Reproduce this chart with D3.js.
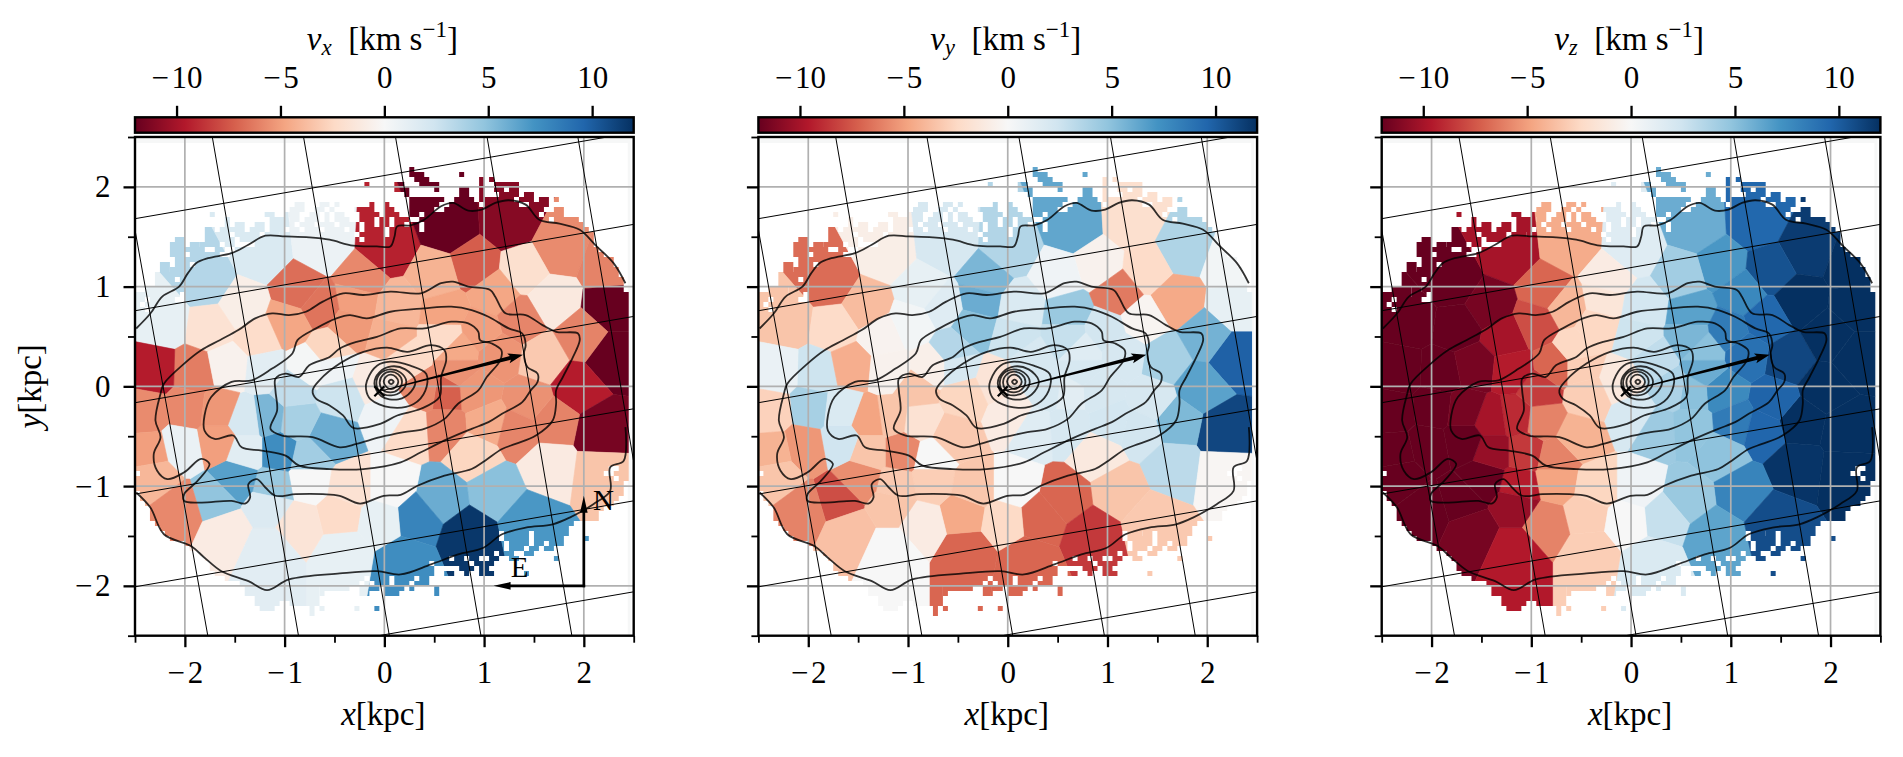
<!DOCTYPE html>
<html>
<head>
<meta charset="utf-8">
<script src="https://cdn.jsdelivr.net/npm/d3@7"></script>
<style>
html, body { margin: 0; padding: 0; background: #fff; }
svg { display: block; }
text { font-family: "Liberation Serif", serif; fill: #000; white-space: pre; }
</style>
</head>
<body>
<svg id="fig" width="1903" height="757"></svg>
<script>
// Voronoi bin centres in kpc, one value per bin for each velocity component
const binX = [-1.786,-1.227,-0.617,0.027,0.654,1.247,1.756,2.231,0.908,1.4,1.688,0.502,-0.227,-0.854,-0.278,-0.651,-1.431,-2.21,-1.736,-1.261,-0.956,-0.346,0.129,0.603,1.112,1.349,2.264,2.264,1.586,1.993,1.925,2.18,1.688,1.451,1.146,0.739,0.908,0.61,0.41,0.227,-0.107,-0.44,0.043,0.26,0.603,1.044,1.315,0.908,1.654,2.163,1.112,0.569,0.061,0.332,0.841,1.451,0.197,-0.414,-0.447,-0.854,-0.041,-0.753,-0.346,-1.125,-1.481,-1.702,-1.058,-0.753,-0.549,-0.888,-1.159,-1.397,-1.397,-1.668,-1.905,-2.312,-1.566,-1.973,-1.668,-2.38,-2.041,-2.346,-2.312,-2.041,-1.6,-1.159,-1.159,-0.922,-1.193,-0.753,-0.515,0.74,0.06,0.6,-0.55,0.97];
const binY = [1.034,1.336,1.403,1.369,1.604,1.638,1.369,1.201,1.218,1.168,0.866,1.101,1.067,0.966,0.866,0.799,0.799,0.664,0.597,0.497,0.631,0.597,0.799,0.732,0.933,0.664,0.799,0.295,0.262,0.497,-0.007,-0.443,-0.342,-0.141,0.329,0.362,-0.04,-0.06,-0.03,0.257,0.057,-0.094,-0.294,-0.43,-0.409,-0.376,-0.443,-0.678,-0.812,-0.879,-1.047,-1.114,-1.013,-1.315,-1.483,-1.349,-1.752,-1.651,-1.282,-1.383,-1.349,-0.946,-1.013,-1.014,-0.93,-1.148,-0.644,-0.711,-0.51,-0.342,-0.309,-0.342,-0.644,-0.544,0.128,0.14,0.195,-0.208,-0.242,-0.242,-0.611,-0.678,-0.879,-1.248,-1.45,-1.651,-1.181,-0.04,0.161,0.195,0.195,0.16,0.49,0.5,0.37,0.55];
const vx = [3.5,1.8,0.7,-9.3,-12,-11,-5.7,-6,-7.3,-2,-1.2,-4.2,-5.8,-6.7,-5,-6.5,-0.8,1,-1.8,-2.2,-4.7,-5.2,-4,-4.8,-4.7,-5.9,-12,-12,-3.2,-6,-9.5,-11.5,-6,-5.5,-5.4,-4.6,-5.3,-7.2,-5.8,-2.3,-1,2.5,0.5,-2.3,-5.9,-4.5,-5.9,-2.6,-1.1,-3.4,5,6,0,8,11.7,7,7.5,1,-2.3,-1.6,1,0,-1.8,4.5,6.6,4.8,7.5,4.2,6,4,5.5,2,1.4,-5,-6.2,-9.5,-0.5,-5.8,-5.3,-5.7,0.8,-5,-4,-5.8,-1,1.3,1.7,3,1.3,0.2,0.5,-5.5,-4.3,-2.3,-2.6,-5];
const vy = [-6.8,-0.8,2,3.6,6.3,-2,3.7,0.3,-0.5,-2.3,-4.6,0.5,5.5,1,6,1.5,-3.8,-3.4,-2.3,-0.4,0.3,5,1.8,4.5,-6.3,-0.3,1,9.8,4,5.7,6.5,11,5.4,2,2,1.5,2,1.3,2,2,-1.6,-2.6,-1,1.5,2,2.2,2.3,-1.2,3.2,-0.2,-3.4,-7,0,-7,-8.5,-3.2,-7,-7,-4.6,-1,-2.4,-3,-3.3,-3.2,-5.6,-7.8,-5.8,0,-3.2,-1.8,-3.4,-4.8,-3.4,2.4,2.5,0.8,-4.4,4,1.8,-2.8,-5.3,-4.2,-3.4,-6,-3.6,0,-3.4,-3.4,-0.5,-0.7,2,2,2.5,2.8,3.5,2.3];
const vz = [-12,-10,-4.5,1.5,6,9.5,11.5,12,7,10.5,12,4.2,-1,-7,-1.5,-4,-11.5,-12,-12,-10,-7.8,-2.5,2.2,6.5,7.8,9.5,12,12,11,12,12,12,12,9.7,9,5,7.7,5,3.8,3,-1.3,-3,2,4.4,4.8,8.5,9.6,4.9,11.8,12,8,4.5,0.5,2.8,6.4,10.7,1.8,-3,-3,-6,0,-4.8,-2.6,-9.5,-12,-12,-8.5,-6,-4.2,-6,-9,-10,-10.5,-12,-12,-12,-11.5,-12,-11.5,-12,-12,-12,-12,-12,-11.5,-9.6,-10.5,-8.4,-9.5,-7,-3,6,2.5,5.5,-2.5,8.5];

// Spaxels that have data: [first row, last row, [[first col, last col], ...]], 0.05 kpc each, row 0 at the top
const maskRows = [
  [6,6,[[55,55]]],
  [7,7,[[55,57],[65,65]]],
  [8,8,[[56,58],[69,69],[71,71]]],
  [9,9,[[46,46],[52,53],[57,60],[69,69],[72,76]]],
  [10,10,[[52,54],[60,60],[65,66],[69,69],[72,73],[75,76]]],
  [11,11,[[54,54],[65,66],[69,69],[73,76],[78,79]]],
  [12,12,[[55,61],[64,67],[69,75],[77,79],[81,82],[84,84]]],
  [13,13,[[32,33],[37,38],[40,40],[47,47],[50,50],[55,60],[63,68],[70,76],[79,82]]],
  [14,14,[[31,33],[36,37],[39,39],[44,47],[50,51],[55,59],[62,81],[84,85]]],
  [15,15,[[15,15],[26,27],[30,32],[35,36],[38,38],[40,41],[45,48],[50,52],[55,56],[58,80],[82,85]]],
  [16,16,[[18,18],[27,30],[31,32],[34,36],[38,38],[40,42],[45,47],[49,50],[52,54],[57,82],[84,88]]],
  [17,17,[[18,18],[20,21],[24,25],[27,31],[33,35],[37,39],[41,44],[46,47],[49,50],[52,53],[55,56],[58,89]]],
  [18,18,[[14,15],[17,21],[23,25],[27,29],[31,32],[34,36],[38,41],[43,44],[46,49],[51,56],[58,90]]],
  [19,19,[[14,18],[20,24],[26,28],[29,43],[45,49],[51,91]]],
  [20,20,[[8,9],[14,19],[21,44],[46,91]]],
  [21,21,[[7,9],[11,12],[13,16],[18,19],[24,91]]],
  [22,22,[[7,9],[10,13],[16,17],[20,92]]],
  [23,23,[[7,9],[11,16],[19,93]]],
  [24,24,[[8,9],[10,95]]],
  [25,25,[[5,6],[8,10],[12,95]]],
  [26,26,[[5,6],[7,9],[10,96]]],
  [27,27,[[4,96]]],
  [28,28,[[4,7],[9,97]]],
  [29,29,[[4,97]]],
  [30,30,[[2,5],[6,7],[8,97]]],
  [31,31,[[0,5],[6,8],[10,98]]],
  [32,32,[[0,1],[3,7],[10,98]]],
  [33,33,[[0,0],[2,98]]],
  [34,34,[[0,1],[3,98]]],
  [35,65,[[0,98]]],
  [66,66,[[0,94],[97,98]]],
  [67,67,[[1,93],[96,98]]],
  [68,68,[[0,95],[97,98]]],
  [69,70,[[0,97]]],
  [71,71,[[1,97]]],
  [72,72,[[1,96]]],
  [73,73,[[2,95]]],
  [74,74,[[3,93]]],
  [75,76,[[3,92]]],
  [77,77,[[4,87]]],
  [78,78,[[5,86]]],
  [79,79,[[6,72],[74,76],[77,78],[80,86]]],
  [80,80,[[7,72],[74,78],[80,85],[90,90]]],
  [81,81,[[10,73],[75,78],[80,81],[83,85]]],
  [82,82,[[11,73],[75,77],[79,80],[82,83]]],
  [83,83,[[13,71],[73,75],[78,79]]],
  [84,84,[[14,62],[64,65],[67,68],[71,72],[75,76],[84,84]]],
  [85,85,[[15,58],[60,66],[68,71]]],
  [86,86,[[15,59],[65,67],[69,70]]],
  [87,87,[[16,59],[62,63],[66,66],[69,71],[78,78]]],
  [88,88,[[18,45],[47,50],[52,55],[57,58]]],
  [89,89,[[21,44],[46,46],[48,50],[52,54],[56,58]]],
  [90,90,[[22,36],[37,42],[45,48],[50,53],[55,55],[60,60]]],
  [91,91,[[22,29],[30,36],[37,37],[45,46],[50,52],[60,60]]],
  [92,92,[[24,29],[30,36]]],
  [93,93,[[24,28],[31,36]]],
  [94,94,[[25,27],[35,35],[37,37],[44,44],[48,48]]],
  [95,95,[[35,35]]]
];

// Isophotes, kpc
const outerTop = [[-2.488,0.58],[-2.346,0.73],[-2.227,0.9],[-2.058,1],[-1.973,1.13],[-1.888,1.235],[-1.769,1.285],[-1.532,1.335],[-1.363,1.42],[-1.193,1.51],[-0.99,1.503],[-0.753,1.493],[-0.549,1.47],[-0.312,1.41],[-0.075,1.403],[0.061,1.403],[0.102,1.503],[0.129,1.604],[0.264,1.614],[0.4,1.671],[0.569,1.805],[0.688,1.839],[0.841,1.762],[0.976,1.772],[1.112,1.839],[1.247,1.866],[1.417,1.822],[1.553,1.671],[1.756,1.631],[1.959,1.57],[2.129,1.403],[2.298,1.235],[2.417,1.034]];
const outerBottom = [[2.417,-0.409],[2.4,-0.745],[2.264,-0.812],[2.264,-1.047],[2.095,-1.181],[1.858,-1.316],[1.688,-1.383],[1.417,-1.416],[1.18,-1.483],[0.993,-1.618],[0.739,-1.685],[0.468,-1.785],[0.163,-1.886],[-0.075,-1.853],[-0.447,-1.876],[-0.956,-1.936],[-1.176,-2.044],[-1.363,-1.953],[-1.634,-1.853],[-1.803,-1.718],[-1.939,-1.601],[-2.21,-1.483],[-2.346,-1.215],[-2.488,-1.064]];
const level2 = [[-1.837,-0.728],[-1.753,-0.779],[-1.871,-0.946],[-2.007,-1.081],[-2.007,-1.148],[-1.837,-1.165],[-1.532,-1.148],[-1.397,-1.175],[-1.346,-1.114],[-1.363,-0.98],[-1.278,-0.93],[-1.193,-1.014],[-1.092,-1.097],[-0.888,-1.081],[-0.617,-1.081],[-0.447,-1.097],[-0.244,-1.175],[-0.007,-1.097],[0.163,-1.087],[0.332,-0.997],[0.603,-0.896],[0.875,-0.829],[1.01,-0.745],[1.18,-0.628],[1.315,-0.577],[1.519,-0.493],[1.688,-0.342],[1.722,-0.175],[1.722,-0.04],[1.79,0.094],[1.892,0.295],[1.959,0.463],[1.942,0.53],[1.722,0.547],[1.586,0.614],[1.417,0.715],[1.214,0.732],[1.112,0.899],[1.061,0.967],[0.841,1],[0.688,1.05],[0.569,1.034],[0.366,0.933],[0.061,0.95],[-0.21,0.916],[-0.414,0.933],[-0.617,0.849],[-0.786,0.748],[-0.956,0.715],[-1.125,0.732],[-1.295,0.681],[-1.464,0.564],[-1.651,0.463],[-1.837,0.362],[-2.007,0.228],[-2.21,0.027],[-2.244,-0.074],[-2.295,-0.342],[-2.244,-0.51],[-2.312,-0.678],[-2.278,-0.846],[-2.176,-0.93],[-2.007,-0.862]];
const level3 = [[-0.871,0.463],[-0.685,0.581],[-0.481,0.681],[-0.346,0.715],[-0.176,0.681],[0.061,0.748],[0.4,0.782],[0.671,0.799],[0.875,0.765],[1.044,0.698],[1.247,0.581],[1.383,0.53],[1.417,0.413],[1.4,0.329],[1.434,0.195],[1.536,0.128],[1.536,0.044],[1.468,-0.04],[1.383,-0.158],[1.18,-0.275],[1.044,-0.359],[0.875,-0.426],[0.637,-0.527],[0.366,-0.661],[0.163,-0.762],[-0.21,-0.829],[-0.549,-0.829],[-0.854,-0.795],[-0.99,-0.695],[-1.227,-0.644],[-1.431,-0.611],[-1.515,-0.493],[-1.702,-0.527],[-1.803,-0.443],[-1.803,-0.292],[-1.736,-0.107],[-1.532,0.044],[-1.329,0.06],[-1.125,0.178],[-0.922,0.329]];
const level4 = [[-0.447,0.379],[-0.278,0.446],[-0.075,0.497],[0.163,0.581],[0.4,0.581],[0.671,0.648],[0.841,0.631],[0.942,0.547],[0.959,0.463],[1.078,0.43],[1.173,0.362],[1.163,0.262],[1.027,0.094],[0.942,-0.04],[0.739,-0.175],[0.603,-0.326],[0.4,-0.426],[0.197,-0.46],[-0.041,-0.51],[-0.278,-0.577],[-0.447,-0.611],[-0.719,-0.51],[-1.024,-0.493],[-1.142,-0.426],[-1.075,-0.242],[-1.092,-0.04],[-1.092,0.077],[-0.99,0.128],[-0.854,0.094],[-0.753,0.211],[-0.549,0.295]];
const level5 = [[-0.719,-0.04],[-0.651,0.06],[-0.447,0.228],[-0.21,0.346],[0.027,0.389],[0.231,0.346],[0.468,0.413],[0.603,0.362],[0.62,0.262],[0.569,0.094],[0.553,-0.107],[0.366,-0.225],[0.129,-0.292],[-0.041,-0.376],[-0.312,-0.416],[-0.414,-0.292],[-0.549,-0.191],[-0.685,-0.124]];
const level6 = [[-0.174,0.057],[-0.074,0.207],[0.06,0.247],[0.261,0.207],[0.421,0.124],[0.411,-0.043],[0.294,-0.177],[0.06,-0.211],[-0.14,-0.127],[-0.184,-0.027]];
const level7 = [[-0.1,0.03],[-0.05,0.14],[0.07,0.2],[0.21,0.17],[0.31,0.06],[0.27,-0.05],[0.14,-0.13],[-0.03,-0.1]];
const level8 = [[-0.08,0.03],[-0.04,0.13],[0.06,0.17],[0.16,0.14],[0.22,0.05],[0.17,-0.05],[0.07,-0.09],[-0.04,-0.06]];
const level9 = [[-0.047,0.04],[-0.01,0.12],[0.06,0.147],[0.14,0.12],[0.177,0.05],[0.14,-0.03],[0.06,-0.06],[-0.02,-0.03]];
const level10 = [[-0.007,0.05],[0.02,0.1],[0.067,0.117],[0.115,0.095],[0.14,0.045],[0.11,-0.01],[0.065,-0.027],[0.02,-0.005]];
const level11 = [[0.043,0.045],[0.068,0.067],[0.094,0.045],[0.068,0.023]];
const closedLevels = [level2, level3, level4, level5, level6, level7, level8, level9, level10, level11];
const openLevels = [outerTop, outerBottom];

// Sky grid lines (RA / Dec), kpc end points
const skyLines = [
  [[-2.5,1.681],[2.5,2.546]], [[-2.5,0.758],[2.5,1.624]], [[-2.5,-0.164],[2.5,0.701]],
  [[-2.5,-1.08],[2.5,-0.225]], [[-2.5,-2.01],[2.5,-1.148]], [[-0.04,-2.497],[2.5,-2.06]],
  [[-2.667,2.5],[-1.77,-2.5]], [[-1.725,2.5],[-0.861,-2.5]], [[-0.81,2.5],[0.05,-2.5]],
  [[0.112,2.5],[0.969,-2.5]], [[1.03,2.5],[1.88,-2.5]], [[1.94,2.5],[2.8,-2.5]]
];

const centre = [-0.05, -0.05];
const paTip = [1.39, 0.318];
const compassCorner = [2, -2];
const compassN = [2, -1.097];
const compassE = [1.095, -2];

const xMajor = [-2, -1, 0, 1, 2];
const xMinor = [-2.5, -1.5, -0.5, 0.5, 1.5, 2.5];
const barTicks = [-10, -5, 0, 5, 10];
const rdBu = ["#67001f","#b2182b","#d6604d","#f4a582","#fddbc7","#f7f7f7","#d1e5f0","#92c5de","#4393c3","#2166ac","#053061"];

const panels = [
  { left: 135, sub: "x", values: vx },
  { left: 758.4, sub: "y", values: vy },
  { left: 1381.7, sub: "z", values: vz }
];

const size = 498.7, axTop = 137, barTop = 117.3, barH = 15.4;
const tickFont = 31, labelFont = 33, scriptFont = 23;
const x = d3.scaleLinear().domain([-2.5, 2.5]).range([0, size]);
const y = d3.scaleLinear().domain([-2.5, 2.5]).range([size, 0]);
const xBar = d3.scaleLinear().domain([-12, 12]).range([0, size]);
const color = d3.scaleLinear().domain(rdBu.map((c, i) => -12 + 2.4 * i)).range(rdBu).clamp(true);
const fmt = d => String(d).replace("-", "\u2212\u200a");

const svg = d3.select("#fig");
const defs = svg.append("defs");

const barGrad = defs.append("linearGradient").attr("id", "barGrad");
rdBu.forEach((c, i) => barGrad.append("stop").attr("offset", (i * 10) + "%").attr("stop-color", c));

defs.append("clipPath").attr("id", "axClip").append("rect").attr("width", size).attr("height", size);

// Mask of the binned map: row edges snap to whole pixels so no seams show between rows
const spx = size / 100;
const maskClip = defs.append("clipPath").attr("id", "maskClip");
maskRows.forEach(([j0, j1, runs]) => {
  const yTop = Math.round(y(2.5 - j0 * 0.05)), yBottom = Math.round(y(2.5 - (j1 + 1) * 0.05));
  runs.forEach(([a, b]) => {
    maskClip.append("rect")
      .attr("x", x(-2.5 + a * 0.05))
      .attr("y", yTop)
      .attr("width", (b - a + 1) * spx)
      .attr("height", yBottom - yTop);
  });
});

const delaunay = d3.Delaunay.from(binX.map((d, i) => [x(d), y(binY[i])]));
const voronoi = delaunay.voronoi([-60, -60, size + 60, size + 60]);

const contourClosed = d3.line().x(d => x(d[0])).y(d => y(d[1])).curve(d3.curveCatmullRomClosed.alpha(0.5));
const contourOpen = d3.line().x(d => x(d[0])).y(d => y(d[1])).curve(d3.curveCatmullRom.alpha(0.5));

// Arrow helper: tapered shaft plus filled head, in pixels
function arrowPath(p0, p1, w0, w1, headLen, headHalf, notch) {
  const dx = p1[0] - p0[0], dy = p1[1] - p0[1], L = Math.hypot(dx, dy);
  const ux = dx / L, uy = dy / L, nx = -uy, ny = ux;
  const bx = p1[0] - ux * headLen, by = p1[1] - uy * headLen;
  const cx = p1[0] - ux * (headLen - notch), cy = p1[1] - uy * (headLen - notch);
  const pts = [
    [p0[0] + nx * w0 / 2, p0[1] + ny * w0 / 2],
    [cx + nx * w1 / 2, cy + ny * w1 / 2],
    [bx + nx * headHalf, by + ny * headHalf],
    p1,
    [bx - nx * headHalf, by - ny * headHalf],
    [cx - nx * w1 / 2, cy - ny * w1 / 2],
    [p0[0] - nx * w0 / 2, p0[1] - ny * w0 / 2]
  ];
  return "M" + pts.map(d => d.join(",")).join("L") + "Z";
}

panels.forEach((p, idx) => {
  // Colour bar
  const bar = svg.append("g").attr("transform", `translate(${p.left},${barTop})`);
  bar.append("rect").attr("width", size).attr("height", barH)
    .attr("fill", "url(#barGrad)").attr("stroke", "#000").attr("stroke-width", 2.4);
  const barAxis = bar.append("g").call(d3.axisTop(xBar).tickValues(barTicks).tickFormat(fmt).tickSize(11.5).tickPadding(18));
  barAxis.select(".domain").remove();
  barAxis.selectAll("line").attr("stroke", "#000").attr("stroke-width", 2.3);
  barAxis.selectAll("text").attr("font-size", tickFont).style("font-family", "'Liberation Serif', serif");

  const title = svg.append("text").attr("x", p.left + size / 2 - 2).attr("y", 50).attr("text-anchor", "middle").attr("font-size", labelFont);
  title.append("tspan").attr("font-style", "italic").text("v");
  title.append("tspan").attr("font-style", "italic").attr("font-size", scriptFont).attr("dy", 5).text(p.sub);
  title.append("tspan").attr("dy", -5).text("  [km s");
  title.append("tspan").attr("font-size", scriptFont).attr("dy", -13).text("\u22121");
  title.append("tspan").attr("dy", 13).text("]");

  // Map
  const g = svg.append("g").attr("transform", `translate(${p.left},${axTop})`);
  const plot = g.append("g").attr("clip-path", "url(#axClip)");

  // Pale strips along the top and right of the image
  plot.append("rect").attr("x", x(-2.48)).attr("y", y(2.48)).attr("width", x(2.45) - x(-2.48)).attr("height", y(2.44) - y(2.48)).attr("fill", "#f6f7f7");
  plot.append("rect").attr("x", x(2.44)).attr("y", y(2.48)).attr("width", x(2.47) - x(2.44)).attr("height", y(-2.5) - y(2.48)).attr("fill", "#f6f7f7");

  const cells = plot.append("g").attr("clip-path", "url(#maskClip)");
  cells.selectAll("path").data(p.values).enter().append("path")
    .attr("d", (d, i) => voronoi.renderCell(i))
    .attr("fill", d => color(d))
    .attr("stroke", d => color(d))
    .attr("stroke-width", 0.6);

  // Grid
  plot.selectAll(".gx").data(xMajor).enter().append("line").attr("x1", d => x(d)).attr("x2", d => x(d)).attr("y1", 0).attr("y2", size)
    .attr("stroke", "#b0b0b0").attr("stroke-width", 1.7);
  plot.selectAll(".gy").data(xMajor).enter().append("line").attr("y1", d => y(d)).attr("y2", d => y(d)).attr("x1", 0).attr("x2", size)
    .attr("stroke", "#b0b0b0").attr("stroke-width", 1.7);

  plot.selectAll(".sky").data(skyLines).enter().append("line")
    .attr("x1", d => x(d[0][0])).attr("y1", d => y(d[0][1]))
    .attr("x2", d => x(d[1][0])).attr("y2", d => y(d[1][1]))
    .attr("stroke", "#000").attr("stroke-width", 1);

  // Isophotes
  plot.selectAll(".lev").data(closedLevels).enter().append("path")
    .attr("d", contourClosed).attr("fill", "none").attr("stroke", "#000").attr("stroke-opacity", 0.8).attr("stroke-width", 1.8);
  plot.selectAll(".levo").data(openLevels).enter().append("path")
    .attr("d", contourOpen).attr("fill", "none").attr("stroke", "#000").attr("stroke-opacity", 0.8).attr("stroke-width", 1.8);

  // Centre cross and PA arrow
  const cx = x(centre[0]), cy = y(centre[1]);
  g.append("path").attr("d", `M${cx - 5},${cy - 5}L${cx + 5},${cy + 5}M${cx - 5},${cy + 5}L${cx + 5},${cy - 5}`)
    .attr("stroke", "#000").attr("stroke-width", 2.2);
  g.append("path").attr("d", arrowPath([cx, cy], [x(paTip[0]), y(paTip[1])], 0.8, 3.8, 15, 5, 2)).attr("fill", "#000");

  if (idx === 0) {
    const c = [x(compassCorner[0]), y(compassCorner[1])];
    g.append("path").attr("d", arrowPath([c[0], c[1] + 1.3], [x(compassN[0]), y(compassN[1])], 2.7, 2.7, 17, 3.8, 0)).attr("fill", "#000");
    g.append("path").attr("d", arrowPath([c[0] + 1.3, c[1]], [x(compassE[0]), y(compassE[1])], 2.7, 2.7, 17, 3.8, 0)).attr("fill", "#000");
    g.append("text").attr("x", x(2.197)).attr("y", y(-1.24)).attr("text-anchor", "middle").attr("font-size", 29).text("N");
    g.append("text").attr("x", x(1.356)).attr("y", y(-1.91)).attr("text-anchor", "middle").attr("font-size", 29).text("E");
  }

  // Axes
  const styleAxis = (ax, w) => {
    ax.select(".domain").remove();
    ax.selectAll("line").attr("stroke", "#000").attr("stroke-width", w);
    ax.selectAll("text").attr("font-size", tickFont).style("font-family", "'Liberation Serif', serif");
  };
  const bottomMinor = g.append("g").attr("transform", `translate(0,${size})`)
    .call(d3.axisBottom(x).tickValues(xMinor).tickFormat("").tickSize(7));
  styleAxis(bottomMinor, 1.8);
  const bottomMajor = g.append("g").attr("transform", `translate(0,${size})`)
    .call(d3.axisBottom(x).tickValues(xMajor).tickFormat(fmt).tickSize(11.5).tickPadding(14));
  styleAxis(bottomMajor, 2.3);
  const leftMinor = g.append("g").call(d3.axisLeft(y).tickValues(xMinor).tickFormat("").tickSize(7));
  styleAxis(leftMinor, 1.8);
  const leftMajor = g.append("g").call(d3.axisLeft(y).tickValues(xMajor).tickFormat(idx === 0 ? fmt : "").tickSize(11.5).tickPadding(13));
  styleAxis(leftMajor, 2.3);

  g.append("rect").attr("width", size).attr("height", size).attr("fill", "none").attr("stroke", "#000").attr("stroke-width", 2.4);

  const xl = g.append("text").attr("x", size / 2 - 1).attr("y", size + 89).attr("text-anchor", "middle").attr("font-size", labelFont);
  xl.append("tspan").attr("font-style", "italic").text("x");
  xl.append("tspan").text("[kpc]");

  if (idx === 0) {
    const yl = g.append("text").attr("transform", `translate(-94,${size / 2}) rotate(-90)`).attr("text-anchor", "middle").attr("font-size", labelFont);
    yl.append("tspan").attr("font-style", "italic").text("y");
    yl.append("tspan").text("[kpc]");
  }
});
</script>
</body>
</html>
